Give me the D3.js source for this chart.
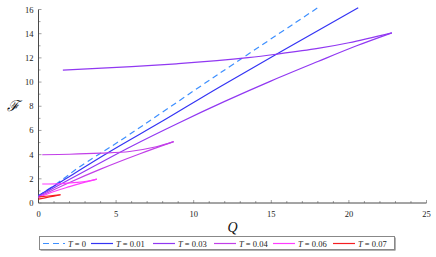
<!DOCTYPE html>
<html><head><meta charset="utf-8">
<script src="https://cdn.jsdelivr.net/npm/d3@7"></script>
<style>
html,body{margin:0;padding:0;background:#fff;}
svg{display:block;}
text{font-family:"Liberation Serif","Times New Roman",serif;}
</style></head>
<body>
<script>
// ---- data ----
const xTicks = [0, 5, 10, 15, 20, 25];
const yTicks = [0, 2, 4, 6, 8, 10, 12, 14, 16];
const seriesNames = ["0", "0.01", "0.03", "0.04", "0.06", "0.07"];
const seriesColors = ["#3d8fff", "#3434f4", "#9138f2", "#c23fe8", "#ff3cff", "#f51e22"];
const T0 = [[0,0.6],[1.5,1.9],[2.6,2.95],[5.2,5.1],[11.7,10.75],[18,16.15]];
const T001 = [[0,0.6],[1.5,1.8],[4.58,4.24],[8.1,6.86],[11.7,9.62],[20.6,16.15]];
const T003 = [[0,0.55],[3,2.65],[6,4.7],[9,6.6],[12,8.4],[15,10.1],[18,11.7],[20.5,13.0],[22.77,14.07],
              [20,13.25],[18,12.78],[15.3,12.3],[13.5,12.02],[11.5,11.77],[9,11.52],[6,11.28],[1.57,10.99]];
const T004 = [[0,0.5],[2,1.7],[4,2.8],[6.5,4.05],[8.71,5.07],
              [7.59,4.65],[5.87,4.26],[4,4.12],[2,4.03],[0.24,3.99]];
const T006 = [[0,0.45],[1,0.95],[2,1.35],[3,1.72],[3.76,1.98],
              [3.2,1.82],[2.5,1.7],[1.5,1.61],[0.24,1.57]];
const T007 = [[0,0.32],[0.7,0.5],[1.42,0.68],[0.8,0.6],[0.05,0.5]];
const seriesData = [T0, T001, T003, T004, T006, T007];

// ---- drawing ----
const W = 436, H = 257;
const svg = d3.select("body").append("svg").attr("width", W).attr("height", H);
const x = d3.scaleLinear().domain([0, 25]).range([38.5, 426.5]);
const y = d3.scaleLinear().domain([0, 16]).range([203, 9.5]);
const axisColor = "#4a4a4a";

// minor ticks
const gx = svg.append("g");
gx.selectAll("line.minor").data(d3.range(0, 26, 1)).join("line")
  .attr("x1", d => x(d)).attr("x2", d => x(d))
  .attr("y1", y(0)).attr("y2", d => y(0) - (d % 5 === 0 ? 3 : 2))
  .attr("stroke", "#888").attr("stroke-width", 0.8);
gx.append("line").attr("x1", x(0)).attr("x2", x(25)).attr("y1", y(0)).attr("y2", y(0))
  .attr("stroke", axisColor).attr("stroke-width", 1);
gx.selectAll("text").data(xTicks).join("text")
  .attr("x", d => x(d)).attr("y", y(0) + 14)
  .attr("text-anchor", "middle").attr("font-size", 8.5).attr("fill", "#222")
  .text(d => d);

const gy = svg.append("g");
gy.selectAll("line.minor").data(d3.range(0, 16.01, 1)).join("line")
  .attr("x1", x(0)).attr("x2", d => x(0) + (d % 2 === 0 ? 3 : 2))
  .attr("y1", d => y(d)).attr("y2", d => y(d))
  .attr("stroke", "#888").attr("stroke-width", 0.8);
gy.append("line").attr("x1", x(0)).attr("x2", x(0)).attr("y1", y(0)).attr("y2", y(16))
  .attr("stroke", axisColor).attr("stroke-width", 1);
gy.selectAll("text").data(yTicks).join("text")
  .attr("x", x(0) - 5).attr("y", d => y(d) + 3)
  .attr("text-anchor", "end").attr("font-size", 8.5).attr("fill", "#222")
  .text(d => d);

// axis labels
svg.append("text").attr("x", 13).attr("y", 111).attr("text-anchor", "middle")
  .attr("font-size", 15).attr("font-style", "italic").attr("fill", "#111")
  .style("font-family", "'DejaVu Serif',serif").text("ℱ");
svg.append("text").attr("x", 232.5).attr("y", 232).attr("text-anchor", "middle")
  .attr("font-size", 14).attr("font-style", "italic").attr("fill", "#111").text("Q");

// curves: each branch (split at the cusp = max Q) is smoothed separately
const line = d3.line().x(d => x(d[0])).y(d => y(d[1])).curve(d3.curveCatmullRom.alpha(0.5));
seriesData.forEach((s, i) => {
  const cusp = d3.maxIndex(s, d => d[0]);
  const branches = cusp < s.length - 1 ? [s.slice(0, cusp + 1), s.slice(cusp)] : [s];
  branches.forEach(b => {
    svg.append("path").attr("d", line(b)).attr("fill", "none")
      .attr("stroke", seriesColors[i]).attr("stroke-width", 1.2)
      .attr("stroke-linejoin", "round")
      .attr("stroke-dasharray", i === 0 ? "6,4" : null);
  });
});

// legend
const lg = svg.append("g");
lg.append("rect").attr("x", 40.5).attr("y", 237.5).attr("width", 355).attr("height", 13)
  .attr("fill", "#666");
lg.append("rect").attr("x", 39.5).attr("y", 236.5).attr("width", 355).attr("height", 13)
  .attr("fill", "#fff").attr("stroke", "#888").attr("stroke-width", 1);
const itemX = [43, 91, 153, 214, 273, 333];
const lineLen = 22;
const ly = 243.5;
seriesNames.forEach((n, i) => {
  lg.append("line").attr("x1", itemX[i]).attr("x2", itemX[i] + lineLen)
    .attr("y1", ly).attr("y2", ly).attr("stroke", seriesColors[i]).attr("stroke-width", 1.2)
    .attr("stroke-dasharray", i === 0 ? "6,4" : null);
  const t = lg.append("text").attr("x", itemX[i] + lineLen + 3).attr("y", ly + 3)
    .attr("font-size", 8.5).attr("fill", "#222");
  t.append("tspan").attr("font-style", "italic").text("T");
  t.append("tspan").text(" = " + n);
});
</script>
</body></html>
